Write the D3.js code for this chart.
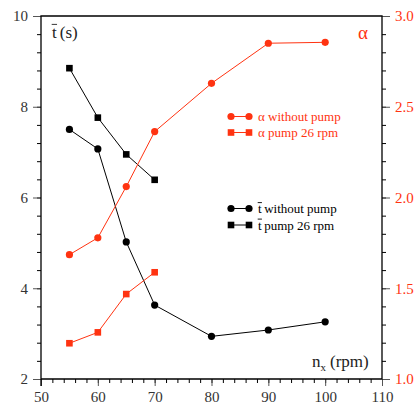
<!DOCTYPE html>
<html>
<head>
<meta charset="utf-8">
<script src="https://cdn.jsdelivr.net/npm/d3@7"></script>
<style>
  body { margin: 0; background: #fff; }
</style>
</head>
<body>
<script>
// rotation speed n_x (rpm)
const speeds = [55, 60, 65, 70, 80, 90, 100]
const speedsPump = [55, 60, 65, 70]

// mean time t (s), left axis
const tNoPump = [7.50, 7.07, 5.02, 3.63, 2.94, 3.08, 3.26]
const tPump = [8.85, 7.76, 6.95, 6.39]

// alpha, right axis
const aNoPump = [1.685, 1.778, 2.06, 2.363, 2.629, 2.85, 2.855]
const aPump = [1.197, 1.257, 1.468, 1.588]

const xTicks = [50, 60, 70, 80, 90, 100, 110]
const yTicks = [2, 4, 6, 8, 10]
const aTicks = [1.0, 1.5, 2.0, 2.5, 3.0]

const red = '#ff3311'
const serif = '"Liberation Serif"'

const m = { width: 417, height: 408, left: 41, right: 382, top: 16, bottom: 379 }

const svg = d3.select('body').append('svg')
    .attr('width', m.width)
    .attr('height', m.height)

const x = d3.scaleLinear().domain([50, 110]).range([m.left, m.right])
const y = d3.scaleLinear().domain([2, 10]).range([m.bottom, m.top])
const ya = d3.scaleLinear().domain([1, 3]).range([m.bottom, m.top])

// minor ticks first, then major ticks with labels
const minor = (step, lo, hi) => d3.range(lo, hi + 1e-9, step)

function clean(g) {
    g.select('.domain').remove()
}

svg.append('g')
    .attr('transform', `translate(0,${m.bottom})`)
    .call(d3.axisBottom(x).tickValues(minor(2, 50, 110)).tickSize(4).tickFormat(''))
    .call(clean)

svg.append('g')
    .attr('transform', `translate(${m.left},0)`)
    .call(d3.axisLeft(y).tickValues(minor(0.4, 2, 10)).tickSize(4).tickFormat(''))
    .call(clean)

svg.append('g')
    .attr('transform', `translate(${m.right},0)`)
    .call(d3.axisRight(ya).tickValues(minor(0.1, 1, 3)).tickSize(4).tickFormat(''))
    .call(clean)

const xAxis = svg.append('g')
    .attr('transform', `translate(0,${m.bottom})`)
    .call(d3.axisBottom(x).tickValues(xTicks).tickSize(7).tickPadding(5).tickFormat(d3.format('d')))
    .call(clean)
xAxis.selectAll('line').attr('stroke', '#555')
xAxis.selectAll('text').attr('font-size', 15).attr('fill', '#333')

const yAxis = svg.append('g')
    .attr('transform', `translate(${m.left},0)`)
    .call(d3.axisLeft(y).tickValues(yTicks).tickSize(8).tickPadding(5).tickFormat(d3.format('d')))
    .call(clean)
yAxis.selectAll('line').attr('stroke', '#555')
yAxis.selectAll('text').attr('font-size', 15).attr('fill', '#333')

const aAxis = svg.append('g')
    .attr('transform', `translate(${m.right},0)`)
    .call(d3.axisRight(ya).tickValues(aTicks).tickSize(8).tickPadding(5).tickFormat(d3.format('.1f')))
    .call(clean)
aAxis.selectAll('line').attr('stroke', '#555')
aAxis.selectAll('text').attr('font-size', 15).attr('fill', red)

// frame
svg.append('path')
    .attr('d', `M${m.left},${m.bottom + 7}V${m.top}H${m.right}V${m.bottom}H${m.left}`)
    .attr('fill', 'none')
    .attr('stroke', '#000')
    .attr('stroke-width', 1.3)

// series
function drawSeries(xs, ys, scale, color, shape) {
    const pts = xs.map((v, i) => [x(v), scale(ys[i])])
    svg.append('path')
        .attr('d', d3.line()(pts))
        .attr('fill', 'none')
        .attr('stroke', color)
        .attr('stroke-width', 1)
    const g = svg.append('g').attr('fill', color)
    if (shape === 'circle') {
        g.selectAll('circle').data(pts).join('circle')
            .attr('cx', d => d[0]).attr('cy', d => d[1]).attr('r', 3.6)
    } else {
        g.selectAll('rect').data(pts).join('rect')
            .attr('x', d => d[0] - 3.3).attr('y', d => d[1] - 3.3)
            .attr('width', 6.6).attr('height', 6.6)
    }
}

drawSeries(speeds, tNoPump, y, '#000', 'circle')
drawSeries(speedsPump, tPump, y, '#000', 'square')
drawSeries(speeds, aNoPump, ya, red, 'circle')
drawSeries(speedsPump, aPump, ya, red, 'square')

// "t" with a bar over it, followed by more text
function tBar(g, x0, y0, size, rest, color, gap) {
    const t = g.append('text').attr('x', x0).attr('y', y0)
        .style('font-family', serif)
        .attr('font-size', size).attr('fill', color).text('t')
    const w = t.node().getComputedTextLength()
    g.append('line')
        .attr('x1', x0 - 0.3).attr('x2', x0 + w + 0.3)
        .attr('y1', y0 - size * 0.8).attr('y2', y0 - size * 0.8)
        .attr('stroke', color).attr('stroke-width', 0.9)
    g.append('text').attr('x', x0 + w + gap).attr('y', y0)
        .style('font-family', serif)
        .attr('font-size', size).attr('fill', color).text(rest)
}

// legends
const legends = [
    { y: 116.5, color: red, shape: 'circle', bar: false, label: 'α without pump' },
    { y: 132.5, color: red, shape: 'square', bar: false, label: 'α pump 26 rpm' },
    { y: 208.5, color: '#000', shape: 'circle', bar: true, label: 'without pump' },
    { y: 225, color: '#000', shape: 'square', bar: true, label: 'pump 26 rpm' }
]
legends.forEach(l => {
    const g = svg.append('g').attr('fill', l.color)
    g.append('line')
        .attr('x1', 231).attr('x2', 249).attr('y1', l.y).attr('y2', l.y)
        .attr('stroke', l.color)
    ;[231, 249].forEach(cx => {
        if (l.shape === 'circle') g.append('circle').attr('cx', cx).attr('cy', l.y).attr('r', 3.6)
        else g.append('rect').attr('x', cx - 3.3).attr('y', l.y - 3.3).attr('width', 6.6).attr('height', 6.6)
    })
    if (l.bar) tBar(g, 258, l.y + 4.5, 13, l.label, l.color, 2.5)
    else g.append('text').attr('x', 258).attr('y', l.y + 4.5).attr('font-size', 13).text(l.label)
})

// axis titles
tBar(svg.append('g'), 52, 38, 17, '(s)', '#222', 3)

svg.append('text')
    .attr('x', 358).attr('y', 39)
    .attr('font-size', 19)
    .attr('fill', red)
    .text('α')

const nx = svg.append('text').attr('x', 312).attr('y', 367).attr('font-size', 17).attr('fill', '#222')
nx.append('tspan').text('n')
nx.append('tspan').attr('font-size', 11).attr('dy', 4).text('x')
nx.append('tspan').attr('dx', 4).attr('dy', -4).text('(rpm)')

// serif face everywhere (axis groups set their own sans-serif)
svg.selectAll('g').attr('font-family', null)
svg.selectAll('text').style('font-family', serif)
</script>
</body>
</html>
